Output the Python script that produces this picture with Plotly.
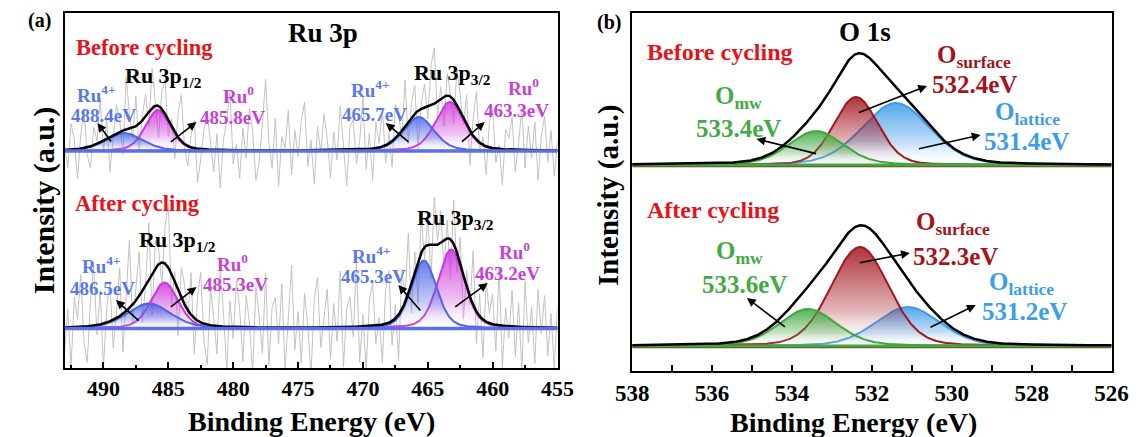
import numpy as np
import plotly.graph_objects as go

# ---------------- data ----------------
# Panel (a) Ru 3p : fitted components (centre eV, height a.u., FWHM eV)
ru_species = ["Ru4+", "Ru0", "Ru4+", "Ru0"]
ru_before_centers = [488.4, 485.8, 465.7, 463.3]
ru_before_heights = [18, 41, 34, 49]
ru_before_fwhm = [3.4, 2.3, 2.8, 2.6]
ru_after_centers = [486.5, 485.3, 465.3, 463.2]
ru_after_heights = [25, 46, 68, 79]
ru_after_fwhm = [4.0, 2.5, 2.3, 2.4]
ru_lorentz_frac = 0.3
ru_before_background = 217
ru_after_background = 39.5

# raw-spectrum residuals (noisy gray line), 493 -> 455 eV
ru_before_residual = [
    5, -18, 26, 10, -30, 14, 38, -8, -22, 18, 3, 44, -12, 20, -35, -6, 28, 12, -24, 52,
    15, -10, 30, -28, 6, 22, -14, 40, 2, -32, 18, 34, -16, 8, -26, 24, 46, -4, -20, 12,
    28, -34, -10, 20, 36, 4, -22, 16, -38, 10, 30, 58, -14, 6, -28, 22, -8, 42, 18, -30,
    -12, 26, 71, 8, -18, 32, -36, 14, 2, 40, -24, 20, -6, 30, 48, -16, 10, -34, 24, -2,
    36, 12, -28, 18, -10, 44, 6, -36, 22, 30, -14, 8, 52, -20, 16, -32, 26, 4, 38, -18,
    10, -26, 34, 20, -8, 46, -22, 14, 28, -38, 6, 24, -12, 40, 56, -16, 12, -30, 22, 2,
    -24, 36, 16, -6, 30, -34, 18, 48, -10, 8, -28, 26, 38, -14, 4, -36, 20, 12, 32, -22,
    6, 42, -18, 24, -8, 28, -30, 14, 34, -12, 20, -26, 10]
ru_after_residual = [
    -24, 18, -40, 30, 8, 52, -16, -36, 26, 60, -10, 34, -44, 14, 40, -28, 6, 48, -38, 22,
    68, -20, 12, 44, -32, 2, 56, -42, 28, 16, -22, 38, 64, -30, 10, -46, 30, 20, -8, 42,
    -36, 24, 50, -18, -40, 36, 8, -28, 58, 14, -44, 26, -12, 46, 18, -34, 32, 4, -46, 40,
    12, -26, 54, -38, 20, 30, -16, 44, -42, 8, 62, -22, 16, -36, 34, 2, -48, 28, 50, -20,
    10, 38, -32, 24, -14, 56, -40, 18, 30, -10, 66, -36, 12, -44, 26, 44, -18, 8, -38, 34,
    52, -24, 14, -46, 40, 6, 60, -30, 20, -42, 36, -12, 28, -34, 48, 4, 32, -28, 18, -40,
    44, -20, 26, -44, 16, -8, 54, -32, 22, -38, 40, 10, 30, -26, 58, -42, 18, -12, 36, -30,
    24, -44, 46, -16, 20, -36, 38, -6, 32, -28, 14, -40, 22]

# Panel (b) O 1s : O_mw, O_surface, O_lattice
o_species = ["O_mw", "O_surface", "O_lattice"]
o_before_centers = [533.4, 532.4, 531.4]
o_before_heights = [34, 68, 62]
o_before_fwhm = [1.6, 1.3, 2.0]
o_after_centers = [533.6, 532.3, 531.1]
o_after_heights = [37, 99, 39]
o_after_fwhm = [1.7, 1.7, 1.9]
o_lorentz_frac = [0.25, 0.15, 0.2]
o_before_background = 206
o_after_background = 25
o_after_labels = [533.6, 532.3, 531.2]

ru_ticks = [490, 485, 480, 475, 470, 465, 460, 455]
o_ticks = [538, 536, 534, 532, 530, 528, 526]

# ---------------- styles ----------------
FONT = "Liberation Serif"
RU_COL = {"Ru4+": ("#4C66E6", (76, 102, 230), "#5A78E6"),
          "Ru0": ("#CF35DD", (207, 53, 221), "#C63FD6")}
O_COL = {"O_mw": ("#3FA83F", (63, 168, 63), "#45AA45"),
         "O_surface": ("#A3171F", (163, 23, 31), "#A3141C"),
         "O_lattice": ("#3E9BE8", (62, 155, 232), "#3E9DE8")}
RED = "#E3141B"

W, H = 1148, 437


def pv(x, c, h, w, eta):
    g = np.exp(-4 * np.log(2) * ((x - c) / w) ** 2)
    lo = 1.0 / (1.0 + 4 * ((x - c) / w) ** 2)
    return h * ((1 - eta) * g + eta * lo)


fig = go.Figure()


def add_component(x, base, comp, col, xa, ya, alpha=0.9, lw=2):
    line_col, rgb, _ = col
    xs = np.concatenate([x, x[::-1]])
    ys = np.concatenate([base + comp, np.full(len(x), base)])
    fig.add_trace(go.Scatter(
        x=xs, y=ys, mode="lines", fill="toself", line=dict(width=0),
        fillgradient=dict(type="vertical", colorscale=[
            [0, "rgba(255,255,255,0.05)"],
            [0.35, "rgba(%d,%d,%d,%.2f)" % (rgb + (alpha * 0.35,))],
            [1, "rgba(%d,%d,%d,%.2f)" % (rgb + (alpha,))]]),
        hoverinfo="skip", xaxis=xa, yaxis=ya, showlegend=False))
    fig.add_trace(go.Scatter(x=x, y=base + comp, mode="lines",
                             line=dict(color=line_col, width=lw),
                             hoverinfo="skip", xaxis=xa, yaxis=ya, showlegend=False))


# ---- panel (a)
xa = np.linspace(493, 455, 800)
for centers, heights, fwhm, bg, resid in [
        (ru_before_centers, ru_before_heights, ru_before_fwhm, ru_before_background, ru_before_residual),
        (ru_after_centers, ru_after_heights, ru_after_fwhm, ru_after_background, ru_after_residual)]:
    xr = np.linspace(493, 455, len(resid))
    env_r = sum(pv(xr, c, h, w, ru_lorentz_frac) for c, h, w in zip(centers, heights, fwhm))
    fig.add_trace(go.Scatter(x=xr, y=bg + env_r + np.array(resid), mode="lines",
                             line=dict(color="#C2C2C2", width=1), hoverinfo="skip",
                             xaxis="x", yaxis="y", showlegend=False))
for centers, heights, fwhm, bg in [
        (ru_before_centers, ru_before_heights, ru_before_fwhm, ru_before_background),
        (ru_after_centers, ru_after_heights, ru_after_fwhm, ru_after_background)]:
    comps = [pv(xa, c, h, w, ru_lorentz_frac) for c, h, w in zip(centers, heights, fwhm)]
    order = [1, 0, 3, 2]  # Ru0 first, Ru4+ on top
    for i in order:
        add_component(xa, bg, comps[i], RU_COL[ru_species[i]], "x", "y", alpha=0.85, lw=2)
    fig.add_trace(go.Scatter(x=xa, y=bg + sum(comps), mode="lines",
                             line=dict(color="black", width=2.5), hoverinfo="skip",
                             xaxis="x", yaxis="y", showlegend=False))
    fig.add_trace(go.Scatter(x=[xa[0], xa[-1]], y=[bg, bg], mode="lines",
                             line=dict(color="#5A6FE8", width=3.5), hoverinfo="skip",
                             xaxis="x", yaxis="y", showlegend=False))

# ---- panel (b)
xb = np.linspace(538, 526, 600)
for centers, heights, fwhm, bg in [
        (o_before_centers, o_before_heights, o_before_fwhm, o_before_background),
        (o_after_centers, o_after_heights, o_after_fwhm, o_after_background)]:
    comps = [pv(xb, c, h, w, e) for c, h, w, e in zip(centers, heights, fwhm, o_lorentz_frac)]
    fig.add_trace(go.Scatter(x=[xb[0], xb[-1]], y=[bg - 1.5, bg - 1.5], mode="lines",
                             line=dict(color="#8B2A20", width=1.5), hoverinfo="skip",
                             xaxis="x2", yaxis="y2", showlegend=False))
    for i in [2, 1, 0]:
        add_component(xb, bg, comps[i], O_COL[o_species[i]], "x2", "y2", alpha=0.88, lw=2)
    fig.add_trace(go.Scatter(x=[xb[0], xb[-1]], y=[bg, bg], mode="lines",
                             line=dict(color="#3FA83F", width=3), hoverinfo="skip",
                             xaxis="x2", yaxis="y2", showlegend=False))
    fig.add_trace(go.Scatter(x=xb, y=bg + sum(comps), mode="lines",
                             line=dict(color="black", width=2.5), hoverinfo="skip",
                             xaxis="x2", yaxis="y2", showlegend=False))

# ---------------- annotations ----------------
anns = []


def txt(x, y, text, size, color="black", xref="x", yref="y", angle=0):
    anns.append(dict(x=x, y=y, xref=xref, yref=yref, text=text, showarrow=False,
                     xanchor="center", yanchor="middle", textangle=angle,
                     font=dict(family=FONT, size=size, color=color, weight="bold")))


def arrow(x, y, ax, ay, xref="x", yref="y"):
    anns.append(dict(x=x, y=y, ax=ax, ay=ay, xref=xref, yref=yref, axref=xref, ayref=yref,
                     text="", showarrow=True, arrowhead=2, arrowsize=1.1, arrowwidth=1.6,
                     arrowcolor="black"))


sup = {"Ru4+": "Ru<sup>4+</sup>", "Ru0": "Ru<sup>0</sup>"}
# panel (a)
txt(473.1, 335, "Ru 3p", 27)
txt(486.87, 321, "Before cycling", 22.5, RED)
txt(487.35, 165, "After cycling", 22.5, RED)
txt(485.37, 291, "Ru 3p<sub>1/2</sub>", 22)
txt(463.08, 294, "Ru 3p<sub>3/2</sub>", 22)
txt(484.32, 127, "Ru 3p<sub>1/2</sub>", 22)
txt(462.85, 149, "Ru 3p<sub>3/2</sub>", 22)
ru_label_pos = [  # (species, x, y of name, x, y of energy, energy)
    ("Ru4+", 490.53, 274, 489.97, 253, ru_before_centers[0]),
    ("Ru0", 479.61, 273, 480.08, 251, ru_before_centers[1]),
    ("Ru4+", 469.44, 279, 469.10, 254, ru_before_centers[2]),
    ("Ru0", 457.62, 281, 458.18, 258, ru_before_centers[3]),
    ("Ru4+", 490.16, 103, 490.05, 80, ru_after_centers[0]),
    ("Ru0", 480.06, 105, 479.83, 84, ru_after_centers[1]),
    ("Ru4+", 469.36, 113, 469.17, 92, ru_after_centers[2]),
    ("Ru0", 458.29, 117, 458.85, 95, ru_after_centers[3]),
]
for sp, x1, y1, x2, y2, e in ru_label_pos:
    col = RU_COL[sp][2]
    txt(x1, y1, sup[sp], 19, col)
    txt(x2, y2, "%.1feV" % e, 19, col)
for hx, hy, tx, ty in [(490.46, 245, 489.33, 225), (482.83, 246, 484.92, 225),
                       (468.24, 245, 466.37, 225), (460.61, 246, 462.48, 225),
                       (489.04, 68, 487.17, 46), (482.83, 81, 484.92, 60),
                       (467.27, 83, 465.47, 56), (460.38, 85, 463.0, 60)]:
    arrow(hx, hy, tx, ty)

# panel (b)
osub = {"O_mw": "O<sub>mw</sub>", "O_surface": "O<sub>surface</sub>",
        "O_lattice": "O<sub>lattice</sub>"}
txt(532.17, 339, "O 1s", 27, xref="x2", yref="y2")
txt(535.81, 319, "Before cycling", 24, RED, "x2", "y2")
txt(535.98, 161, "After cycling", 24, RED, "x2", "y2")
o_label_pos = [
    ("O_mw", 535.33, 274, 535.34, 243, o_before_centers[0]),
    ("O_surface", 529.44, 315, 529.44, 287, o_before_centers[1]),
    ("O_lattice", 528.10, 258, 528.14, 230, o_before_centers[2]),
    ("O_mw", 535.32, 119, 535.19, 87, o_after_labels[0]),
    ("O_surface", 529.96, 148, 529.92, 115, o_after_labels[1]),
    ("O_lattice", 528.25, 88, 528.19, 60, o_after_labels[2]),
]
for sp, x1, y1, x2, y2, e in o_label_pos:
    col = O_COL[sp][2]
    txt(x1, y1, osub[sp], 25, col, "x2", "y2")
    txt(x2, y2, "%.1feV" % e, 25, col, "x2", "y2")
for hx, hy, tx, ty in [(534.89, 232, 533.36, 217), (530.62, 285, 532.36, 258),
                       (529.28, 236, 530.86, 222), (535.13, 73, 534.14, 43),
                       (531.05, 118, 532.34, 108), (529.40, 66, 530.57, 43)]:
    arrow(hx, hy, tx, ty, "x2", "y2")


# axis titles & panel letters (paper coords)
def paper(px, py):
    return px / W, 1 - py / H


for (px, py), t, s, ang in [((303, 421), "Binding Energy (eV)", 28, 0),
                            ((862, 422), "Binding Energy (eV)", 28, 0),
                            ((28, 200), "Intensity (a.u.)", 30, -90),
                            ((609, 195), "Intensity (a.u.)", 29, -90),
                            ((23, 21), "(a)", 20, 0),
                            ((610, 23), "(b)", 20, 0)]:
    x, y = paper(px, py)
    txt(x, y, t, s, "black", "paper", "paper", ang)

axis_common = dict(showline=True, linewidth=2, linecolor="black", mirror=True,
                   showgrid=False, zeroline=False)
fig.update_layout(
    width=W, height=H, margin=dict(l=0, r=0, t=0, b=0),
    paper_bgcolor="white", plot_bgcolor="white", showlegend=False,
    annotations=anns,
    xaxis=dict(domain=[49 / W, 557 / W], range=[493, 455], anchor="y",
               tickmode="array", tickvals=ru_ticks, ticks="inside", ticklen=6, tickwidth=2,
               tickcolor="black",
               minor=dict(dtick=2.5, ticks="inside", ticklen=3, tickwidth=1.5, tickcolor="black"),
               tickfont=dict(family=FONT, size=22, color="black", weight="bold"),
               **axis_common),
    yaxis=dict(domain=[1 - 368 / H, 1 - 13 / H], range=[0, 355], anchor="x",
               showticklabels=False, ticks="", **axis_common),
    xaxis2=dict(domain=[634 / W, 1128 / W], range=[538, 526], anchor="y2",
                tickmode="array", tickvals=o_ticks, ticks="inside", ticklen=6, tickwidth=2,
                tickcolor="black",
                minor=dict(dtick=1, ticks="inside", ticklen=6, tickwidth=2, tickcolor="black"),
                tickfont=dict(family=FONT, size=23, color="black", weight="bold"),
                **axis_common),
    yaxis2=dict(domain=[1 - 371 / H, 1 - 13 / H], range=[0, 358], anchor="x2",
                showticklabels=False, ticks="", **axis_common),
)

fig.write_html("out.html")
